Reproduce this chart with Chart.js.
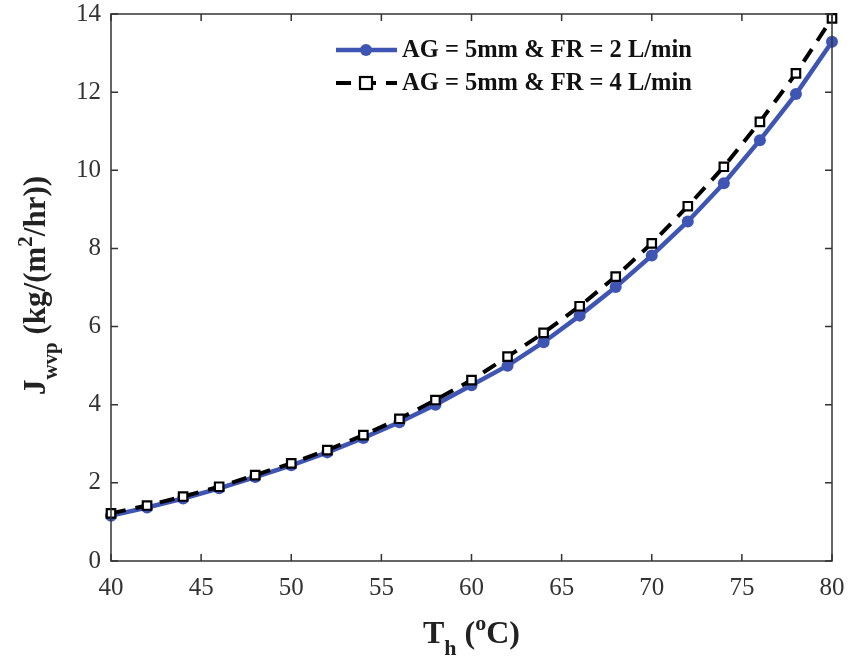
<!DOCTYPE html>
<html>
<head>
<meta charset="utf-8">
<script src="https://cdn.jsdelivr.net/npm/chart.js@4"></script>
<style>
  html, body { margin: 0; padding: 0; background: #fff; }
  #wrap { width: 862px; height: 659px; position: relative; }
</style>
</head>
<body>
<div id="wrap"><canvas id="graf"></canvas></div>
<script>
// temperaturas (eixo x)
const temps = [40, 42, 44, 46, 48, 50, 52, 54, 56, 58, 60, 62, 64, 66, 68, 70, 72, 74, 76, 78, 80];
// fluxo para FR = 2 L/min
const fluxo2 = [1.16, 1.37, 1.6, 1.86, 2.15, 2.45, 2.78, 3.15, 3.55, 4.0, 4.5, 5.0, 5.6, 6.28, 7.01, 7.82, 8.69, 9.67, 10.77, 11.95, 13.29];
// fluxo para FR = 4 L/min
const fluxo4 = [1.22, 1.42, 1.65, 1.9, 2.2, 2.5, 2.84, 3.22, 3.64, 4.12, 4.63, 5.23, 5.84, 6.52, 7.28, 8.13, 9.08, 10.09, 11.24, 12.48, 13.89];
const nomes = ["AG = 5mm & FR = 2 L/min", "AG = 5mm & FR = 4 L/min"];

const AZUL = "#3f55b3";
const SERIF = "'Liberation Serif', 'Times New Roman', serif";

// desenha texto com sub/sobrescrito, centralizado em (0,0)
function textoRico(ctx, partes, tam) {
  const pequeno = Math.round(tam * 0.68);
  let total = 0;
  partes.forEach(p => {
    ctx.font = "bold " + (p[1] === "n" ? tam : pequeno) + "px " + SERIF;
    total += ctx.measureText(p[0]).width;
  });
  let x = -total / 2;
  partes.forEach(p => {
    const t = p[1] === "n" ? tam : pequeno;
    ctx.font = "bold " + t + "px " + SERIF;
    let dy = 0;
    if (p[1] === "sub") dy = tam * 0.38;
    if (p[1] === "sup") dy = -tam * 0.42;
    ctx.fillText(p[0], x, dy);
    x += ctx.measureText(p[0]).width;
  });
}

const molduraPlugin = {
  id: "moldura",
  afterDraw(chart) {
    const ctx = chart.ctx;
    const a = chart.chartArea;
    const xs = chart.scales.x, ys = chart.scales.y;
    ctx.save();
    ctx.strokeStyle = "#333";
    ctx.lineWidth = 1.5;
    ctx.strokeRect(a.left, a.top, a.right - a.left, a.bottom - a.top);
    ctx.beginPath();
    xs.ticks.forEach(t => {
      const px = xs.getPixelForValue(t.value);
      ctx.moveTo(px, a.bottom); ctx.lineTo(px, a.bottom - 7);
      ctx.moveTo(px, a.top); ctx.lineTo(px, a.top + 7);
    });
    ys.ticks.forEach(t => {
      const py = ys.getPixelForValue(t.value);
      ctx.moveTo(a.left, py); ctx.lineTo(a.left + 7, py);
      ctx.moveTo(a.right, py); ctx.lineTo(a.right - 7, py);
    });
    ctx.stroke();

    // titulos dos eixos
    ctx.fillStyle = "#222";
    ctx.textBaseline = "alphabetic";
    ctx.textAlign = "left";
    ctx.save();
    ctx.translate((a.left + a.right) / 2, 643);
    textoRico(ctx, [["T", "n"], ["h", "sub"], [" (", "n"], ["o", "sup"], ["C)", "n"]], 32);
    ctx.restore();
    ctx.save();
    ctx.translate(45, (a.top + a.bottom) / 2 - 2);
    ctx.rotate(-Math.PI / 2);
    textoRico(ctx, [["J", "n"], ["wvp", "sub"], [" (kg/(m", "n"], ["2", "sup"], ["/hr))", "n"]], 31);
    ctx.restore();

    // legenda
    const linhas = [50, 83];
    chart.data.datasets.forEach((ds, i) => {
      const y = linhas[i];
      ctx.save();
      ctx.strokeStyle = ds.borderColor;
      ctx.lineWidth = ds.borderWidth;
      ctx.setLineDash(ds.borderDash || []);
      ctx.beginPath();
      ctx.moveTo(336, y); ctx.lineTo(397, y);
      ctx.stroke();
      ctx.setLineDash([]);
      ctx.fillStyle = ds.pointBackgroundColor;
      ctx.strokeStyle = ds.pointBorderColor;
      ctx.lineWidth = ds.pointBorderWidth;
      if (ds.pointStyle === "rect") {
        ctx.fillRect(360, y - 6, 12, 12);
        ctx.strokeRect(360, y - 6, 12, 12);
      } else {
        ctx.beginPath();
        ctx.arc(366, y, ds.pointRadius, 0, Math.PI * 2);
        ctx.fill();
      }
      ctx.restore();
      ctx.fillStyle = "#111";
      ctx.font = "bold 24.5px " + SERIF;
      ctx.textBaseline = "middle";
      ctx.fillText(ds.label, 402, y + 1);
    });
    ctx.restore();
  }
};

new Chart(document.getElementById("graf"), {
  type: "line",
  data: {
    labels: temps,
    datasets: [
      {
        label: nomes[0],
        data: temps.map((t, i) => ({ x: t, y: fluxo2[i] })),
        borderColor: AZUL,
        borderWidth: 4.5,
        pointStyle: "circle",
        pointRadius: 6,
        pointBackgroundColor: AZUL,
        pointBorderColor: AZUL,
        pointBorderWidth: 0,
        clip: false,
        order: 2,
      },
      {
        label: nomes[1],
        data: temps.map((t, i) => ({ x: t, y: fluxo4[i] })),
        borderColor: "#000",
        borderWidth: 4,
        borderDash: [15, 10],
        pointStyle: "rect",
        pointRadius: 6,
        pointBackgroundColor: "#fff",
        pointBorderColor: "#000",
        pointBorderWidth: 2.2,
        clip: false,
        order: 1,
      },
    ],
  },
  options: {
    responsive: true,
    maintainAspectRatio: false,
    animation: false,
    layout: { padding: { top: 14, right: 30, left: 0, bottom: 0 } },
    scales: {
      x: {
        type: "linear",
        min: 40,
        max: 80,
        ticks: {
          stepSize: 5,
          color: "#333",
          padding: 12,
          font: { family: SERIF, size: 25 },
        },
        grid: { display: false, drawTicks: false },
        border: { display: false },
        afterFit: (s) => { s.height = 98; s.paddingLeft = 0; s.paddingRight = 0; },
      },
      y: {
        min: 0,
        max: 14,
        ticks: {
          stepSize: 2,
          color: "#333",
          padding: 10,
          font: { family: SERIF, size: 25 },
        },
        grid: { display: false, drawTicks: false },
        border: { display: false },
        afterFit: (s) => { s.width = 111; s.paddingTop = 0; s.paddingBottom = 0; },
      },
    },
    plugins: {
      legend: { display: false },
      tooltip: { enabled: false },
    },
  },
  plugins: [molduraPlugin],
});
</script>
</body>
</html>
